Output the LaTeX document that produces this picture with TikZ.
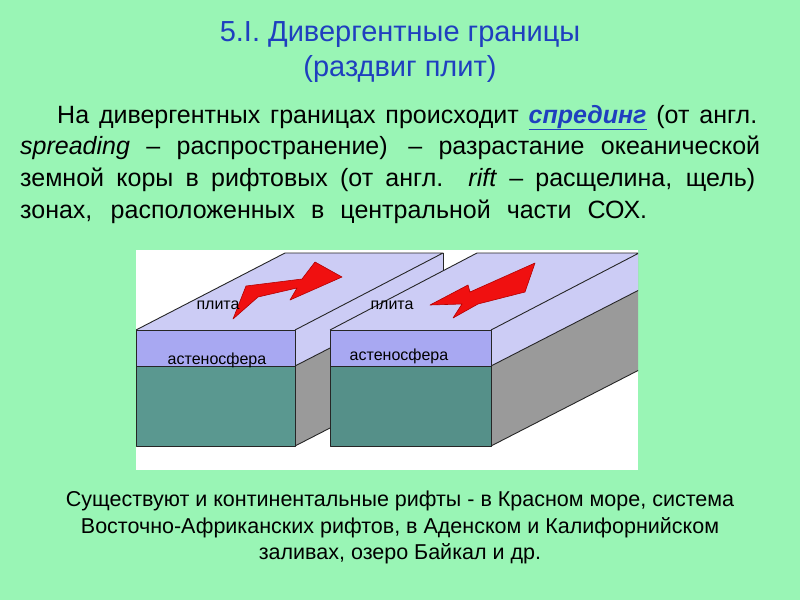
\documentclass[tikz,border=0pt]{standalone}
\usepackage{fontspec}
\setmainfont{Liberation Sans}
\usepackage{xcolor}
\definecolor{bg}{HTML}{99F5B5}
\definecolor{ttl}{HTML}{1F3FBF}
\definecolor{topc}{HTML}{CCCCF5}
\definecolor{band}{HTML}{A8A8F2}
\definecolor{teal}{HTML}{5A9890}
\definecolor{side}{HTML}{9A9A9A}
\definecolor{arr}{HTML}{F01010}
\begin{document}
\begin{tikzpicture}[x=1pt,y=-1pt,
  body/.style={anchor=base west,inner sep=0pt,font=\fontsize{25}{28}\selectfont},
  bot/.style={anchor=base,inner sep=0pt,font=\fontsize{21.5}{25}\selectfont},
  lab/.style={inner sep=0pt,font=\fontsize{16}{18}\selectfont},
  edge/.style={draw=black!85,line width=0.9pt,line join=round}]
\fill[bg] (0,0) rectangle (800,600);
\useasboundingbox (0,0) rectangle (800,600);
\node[inner sep=0pt,align=center,text=ttl,font=\fontsize{29}{35}\selectfont] (title) at (400,52) {5.I. Дивергентные границы\\(раздвиг плит)};
\node[body] (l1) at (57,123) {\makebox[700pt][s]{На дивергентных границах происходит \textcolor{ttl}{\underline{\textbf{\textit{спрединг}}}} (от англ.}};
\node[body] (l2) at (20,154) {\makebox[740pt][s]{\textit{spreading} – распространение) \,– разрастание океанической}};
\node[body] (l3) at (20,186) {\makebox[735pt][s]{земной коры в рифтовых (от англ. \textit{rift} – расщелина, щель)}};
\node[body] (l4) at (20,218) {\makebox[627pt][s]{зонах, расположенных в центральной части СОХ.}};
% picture
\fill[white] (136,250) rectangle (638,470);
\begin{scope}
\clip (136,250) rectangle (638,470);
% left block
\fill[side] (295,330) -- (443,253) -- (443,370) -- (295,446) -- cycle;
\fill[topc] (295,330) -- (443,253) -- (443,290) -- (295,366) -- cycle;
\draw[edge] (295,366) -- (443,290);
\draw[edge] (295,446) -- (443,370);
\fill[topc] (136,330) -- (285,253) -- (443,253) -- (295,330) -- cycle;
\draw[edge] (136,330) -- (285,253) -- (443,253) -- (295,330);
\draw[edge] (443,253) -- (443,300);
\fill[band] (136,330) rectangle (295,366);
\fill[teal] (136,366) rectangle (295,446);
\draw[edge] (136,330) rectangle (295,446);
\draw[edge] (136,366) -- (295,366);
% right block
\fill[side] (491,330) -- (639,253) -- (639,370) -- (491,446) -- cycle;
\fill[topc] (491,330) -- (639,253) -- (639,290) -- (491,366) -- cycle;
\draw[edge] (491,366) -- (639,290);
\draw[edge] (491,446) -- (639,370);
\fill[topc] (330,330) -- (477,253) -- (639,253) -- (491,330) -- cycle;
\draw[edge] (330,330) -- (477,253) -- (639,253) -- (491,330);
\fill[band] (330,330) rectangle (491,366);
\fill[teal!95!black] (330,366) rectangle (491,446);
\draw[edge] (330,330) rectangle (491,446);
\draw[edge] (330,366) -- (491,366);
\end{scope}
% arrows
\filldraw[fill=arr,draw=red!70!black,line width=0.6pt,line join=round]
 (233,319) -- (246,286) -- (302,279) -- (315,262) -- (342,277) -- (290,300) -- (297,288) -- (258,297) -- cycle;
\filldraw[fill=arr,draw=red!70!black,line width=0.6pt,line join=round]
 (430,305) -- (468,285) -- (470,292) -- (535,263) -- (525,292) -- (478,304) -- (453,318) -- (462,304) -- cycle;
\node[lab] (p1) at (218,305) {плита};
\node[lab] (p2) at (392,305) {плита};
\node[lab] (a1) at (217,360) {астеносфера};
\node[lab] (a2) at (399,356) {астеносфера};
\node[bot] (b1) at (400,506) {Существуют и континентальные рифты - в Красном море, система};
\node[bot] (b2) at (400,533) {Восточно-Африканских рифтов, в Аденском и Калифорнийском};
\node[bot] (b3) at (400,559) {заливах, озеро Байкал и др.};
\end{tikzpicture}
\end{document}
